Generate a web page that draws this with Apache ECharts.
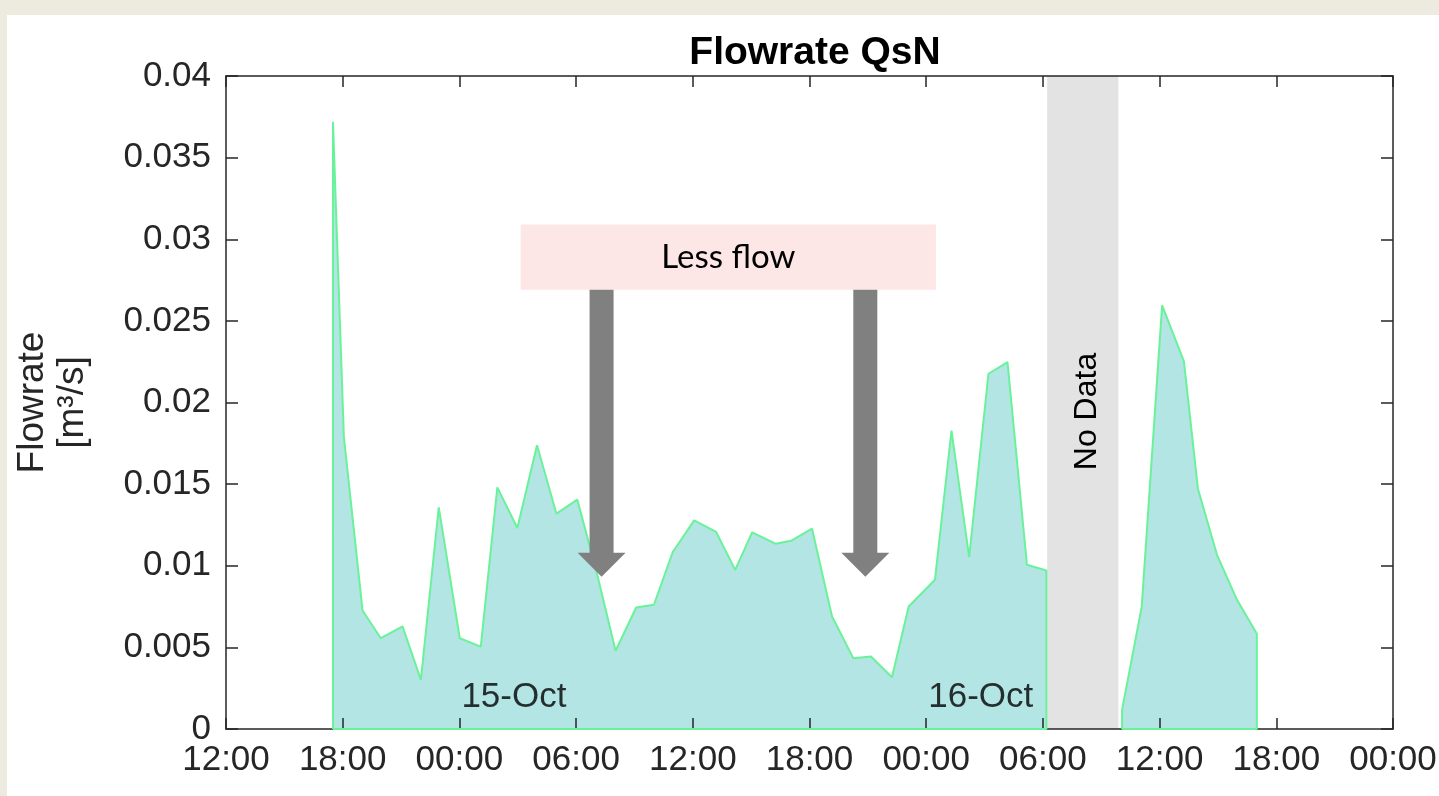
<!DOCTYPE html>
<html>
<head>
<meta charset="utf-8">
<script src="https://cdn.jsdelivr.net/npm/echarts@6/dist/echarts.min.js"></script>
<style>
  html, body { margin: 0; padding: 0; background: #edeae0; }
  #chart { position: absolute; left: 7px; top: 15px; width: 1432px; height: 781px; background: #fff; }
</style>
</head>
<body>
<div id="chart"></div>
<script>
// hours since 14-Oct 12:00
var hoursA = [5.5, 6.06, 7.02, 7.96, 9.08, 10.02, 10.94, 12.02, 13.1, 13.95, 14.98, 15.99, 16.99, 18.06, 19.0,
  20.03, 21.09, 22.0, 22.97, 24.07, 25.2, 26.18, 27.05, 28.25, 29.05, 30.13, 31.16, 32.25, 33.16, 34.24,
  35.1, 36.45, 37.3, 38.21, 39.2, 40.18, 41.18, 42.18];
var flowA = [0.0372, 0.0179, 0.00726, 0.00556, 0.00628, 0.00301, 0.01358, 0.00556, 0.00505, 0.0148, 0.01231,
  0.01738, 0.01319, 0.01405, 0.00988, 0.00479, 0.00744, 0.00761, 0.01084, 0.01278, 0.01207, 0.00975, 0.01204,
  0.01135, 0.01153, 0.01227, 0.00689, 0.00434, 0.00444, 0.00317, 0.0075, 0.00914, 0.01828, 0.01053, 0.02176,
  0.02247, 0.01006, 0.00971];
var hoursB = [46.07, 47.08, 48.13, 49.25, 49.97, 50.95, 51.98, 53.0];
var flowB = [0.00117, 0.00748, 0.02595, 0.02252, 0.01472, 0.01067, 0.00791, 0.00583];

var xTickLabels = ['12:00', '18:00', '00:00', '06:00', '12:00', '18:00', '00:00', '06:00', '12:00', '18:00', '00:00'];
var yTickLabels = ['0', '0.005', '0.01', '0.015', '0.02', '0.025', '0.03', '0.035', '0.04'];

var dateLabels = [[12, 0.00196, '15-Oct'], [36, 0.00196, '16-Oct']];
var noDataSpan = [42.22, 45.88];
var lessFlowBox = [15.15, 36.5, 0.0269, 0.0309];
// x, top of arrow, tip of arrow
var arrows = [[19.31, 0.0269, 0.00933], [32.87, 0.0269, 0.00933]];

var font = 'Liberation Sans, Arial, sans-serif';
var axisColor = '#262626';

function ring(hs, vs) {
  var d = [[hs[0], 0]];
  for (var i = 0; i < hs.length; i++) d.push([hs[i], vs[i]]);
  d.push([hs[hs.length - 1], 0]);
  d.push([hs[0], 0]);
  return d;
}
var segments = [ring(hoursA, flowA), ring(hoursB, flowB)];

var chart = echarts.init(document.getElementById('chart'));

function xAxisDef(pos, labels) {
  return {
    type: 'value', position: pos, min: 0, max: 60, interval: 6, z: 2,
    axisLine: { show: true, onZero: false, lineStyle: { color: axisColor, width: 1.5 } },
    axisTick: { show: true, inside: true, length: 11, lineStyle: { color: axisColor, width: 1.5 } },
    splitLine: { show: false },
    axisLabel: {
      show: labels, margin: 14, color: axisColor, fontSize: 35, fontFamily: font,
      formatter: function (v) { return xTickLabels[Math.round(v / 6)]; }
    }
  };
}
function yAxisDef(pos, labels) {
  var a = {
    type: 'value', position: pos, min: 0, max: 0.04, interval: 0.005, z: 2,
    axisLine: { show: true, onZero: false, lineStyle: { color: axisColor, width: 1.5 } },
    axisTick: { show: true, inside: true, length: 12, lineStyle: { color: axisColor, width: 1.5 } },
    splitLine: { show: false },
    axisLabel: {
      show: labels, margin: 15, color: axisColor, fontSize: 35, fontFamily: font,
      formatter: function (v) { return yTickLabels[Math.round(v / 0.005)]; }
    }
  };
  if (labels) {
    a.name = 'Flowrate\n[m\u00b3/s]';
    a.nameLocation = 'middle';
    a.nameRotate = 90;
    a.nameGap = 133;
    a.nameMoveOverlap = false;
    a.nameTextStyle = { color: axisColor, fontSize: 37, lineHeight: 40, fontFamily: font };
  }
  return a;
}

var series = [];
segments.forEach(function (seg) {
  series.push({
    type: 'line', data: seg, z: 1, symbol: 'none', silent: true,
    lineStyle: { width: 0 }, areaStyle: { color: '#b2e5e4', opacity: 1 }
  });
  series.push({
    type: 'line', data: seg, z: 3, symbol: 'none', silent: true,
    lineStyle: { color: '#6af29a', width: 2 }
  });
});

// arrows + "Less flow" box
series.push({
  type: 'custom', z: 4, silent: true,
  data: arrows,
  renderItem: function (params, api) {
    var top = api.coord([api.value(0), api.value(1)]);
    var tip = api.coord([api.value(0), api.value(2)]);
    var x = top[0], hw = 12, hh = 24, hl = 24;
    return {
      type: 'polygon',
      shape: { points: [[x - hw, top[1]], [x + hw, top[1]], [x + hw, tip[1] - hl], [x + hh, tip[1] - hl],
        [x, tip[1]], [x - hh, tip[1] - hl], [x - hw, tip[1] - hl]] },
      style: { fill: '#808080' }
    };
  },
  markArea: {
    silent: true,
    itemStyle: { color: '#fde6e6' },
    label: { show: true, position: 'inside', formatter: 'Less flow', color: '#000', fontSize: 33, fontFamily: 'Lato, sans-serif' },
    data: [
      [{ xAxis: lessFlowBox[0], yAxis: lessFlowBox[2] }, { xAxis: lessFlowBox[1], yAxis: lessFlowBox[3] }]
    ]
  }
});

// date labels + "No Data" bar
series.push({
  type: 'scatter', z: 4, silent: true, symbolSize: 0,
  data: dateLabels,
  label: {
    show: true, position: 'right', distance: 2, color: '#000', fontSize: 35, fontFamily: font,
    formatter: function (p) { return p.value[2]; }
  },
  markArea: {
    silent: true,
    itemStyle: { color: '#e3e3e3' },
    label: { show: true, position: 'inside', rotate: 90, offset: [-9, 4], formatter: 'No Data', color: '#000', fontSize: 32, fontFamily: font },
    data: [
      [{ xAxis: noDataSpan[0], yAxis: 0 }, { xAxis: noDataSpan[1], yAxis: 0.04 }]
    ]
  }
});

chart.setOption({
  animation: false,
  title: {
    text: 'Flowrate QsN', left: 803, top: 14, textAlign: 'center',
    textStyle: { fontSize: 39, fontWeight: 'bold', color: '#000', fontFamily: font }
  },
  grid: { left: 219, right: 46, top: 61, bottom: 67, outerBoundsMode: 'none', containLabel: false },
  xAxis: [xAxisDef('bottom', true), xAxisDef('top', false)],
  yAxis: [yAxisDef('left', true), yAxisDef('right', false)],
  series: series
});
</script>
</body>
</html>
